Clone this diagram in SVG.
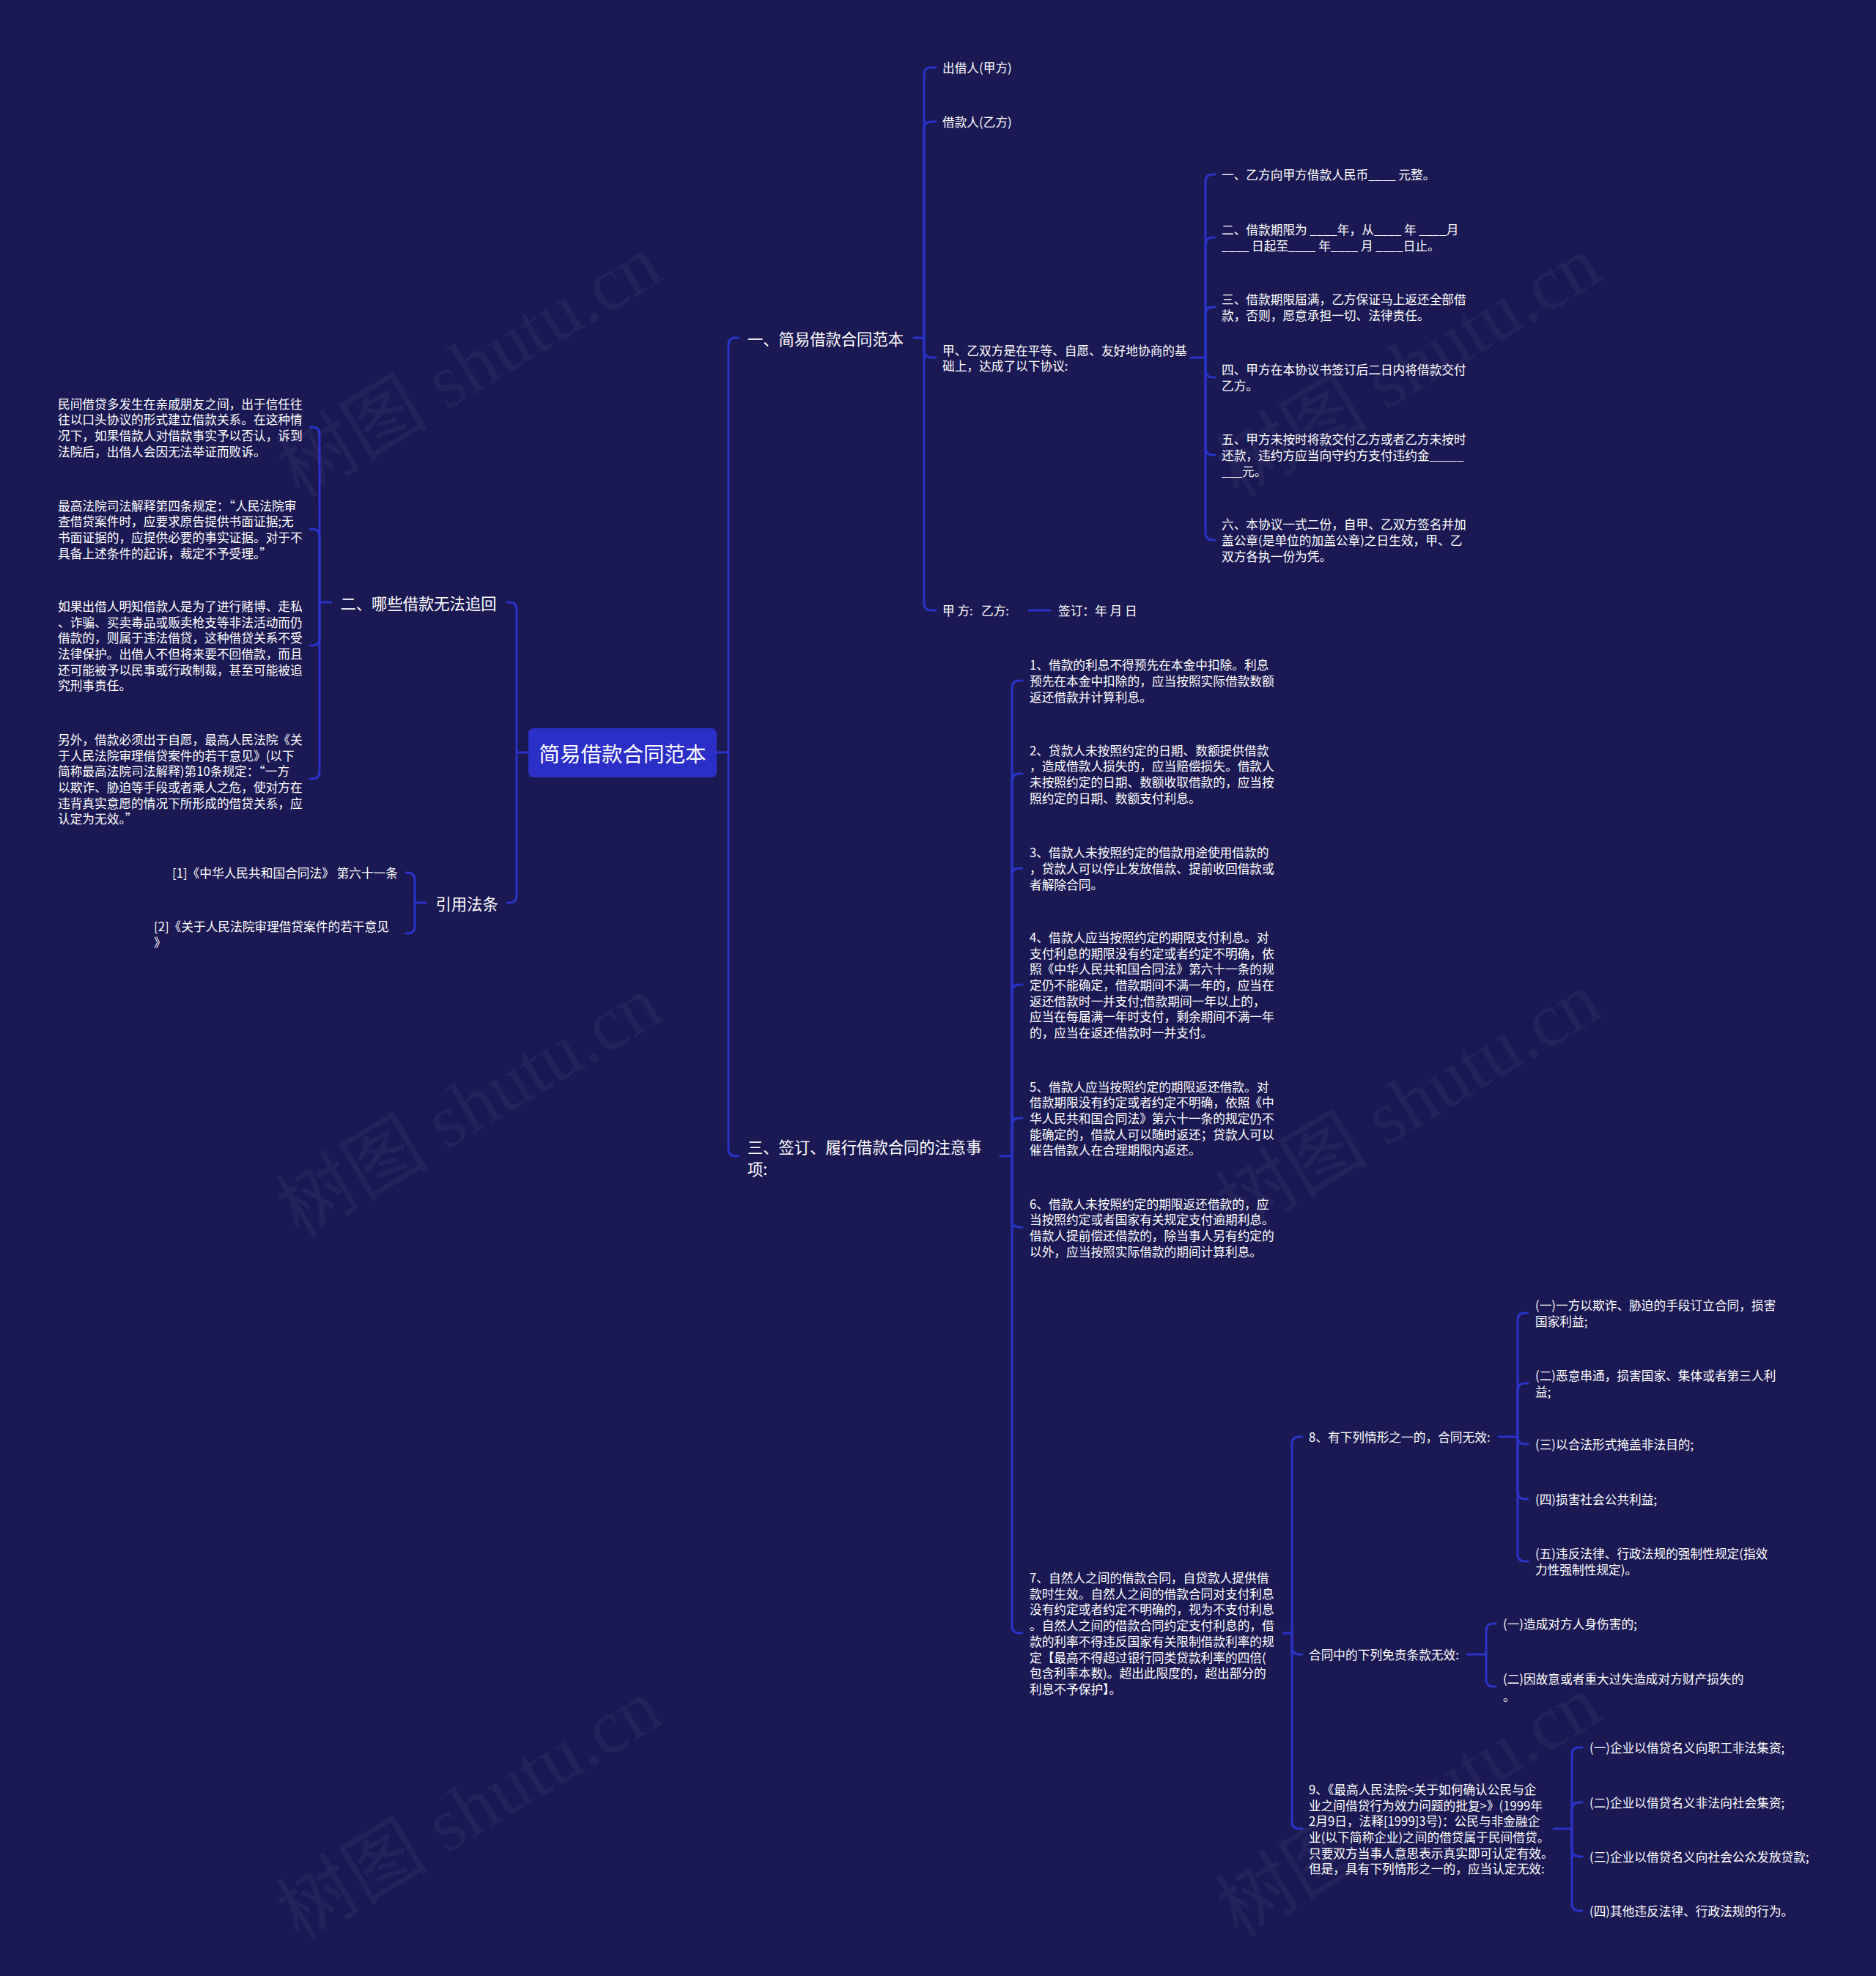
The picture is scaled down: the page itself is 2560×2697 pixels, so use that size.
<svg xmlns="http://www.w3.org/2000/svg" width="2560" height="2697" viewBox="0 0 2560 2697">
<style>
.t{font-family:"Noto Sans CJK SC","Noto Sans",sans-serif;fill:#ffffff;font-size:16.7px;dominant-baseline:central}
.h{font-size:21.3px}
.c{font-size:28.5px;text-anchor:middle}
.ln{fill:none;stroke:#2a33c8;stroke-width:3;stroke-linecap:round}
.wm{font-family:"Liberation Serif","Noto Sans CJK SC",serif;font-size:104px;fill:#ffffff;fill-opacity:0.045}
</style>
<rect x="0" y="0" width="2560" height="2697" fill="#1b1953"/>
<g id="watermarks">
<text class="wm" x="640" y="500" text-anchor="middle" dominant-baseline="central" transform="rotate(-31 640 500)">树图 shutu.cn</text>
<text class="wm" x="1922" y="500" text-anchor="middle" dominant-baseline="central" transform="rotate(-31 1922 500)">树图 shutu.cn</text>
<text class="wm" x="640" y="1510" text-anchor="middle" dominant-baseline="central" transform="rotate(-31 640 1510)">树图 shutu.cn</text>
<text class="wm" x="1922" y="1505" text-anchor="middle" dominant-baseline="central" transform="rotate(-31 1922 1505)">树图 shutu.cn</text>
<text class="wm" x="640" y="2470" text-anchor="middle" dominant-baseline="central" transform="rotate(-31 640 2470)">树图 shutu.cn</text>
<text class="wm" x="1922" y="2465" text-anchor="middle" dominant-baseline="central" transform="rotate(-31 1922 2465)">树图 shutu.cn</text>
</g>
<g id="connectors">
<path class="ln" d="M978 1027H994"/>
<path class="ln" d="M994 1027V471Q994 461 1004 461H1008"/>
<path class="ln" d="M994 1027V1568Q994 1578 1004 1578H1008"/>
<path class="ln" d="M721 1027H705"/>
<path class="ln" d="M705 1027V832Q705 822 695 822H692"/>
<path class="ln" d="M705 1027V1222Q705 1232 695 1232H692"/>
<path class="ln" d="M1247 461H1261"/>
<path class="ln" d="M1261 461V102Q1261 92 1271 92H1277"/>
<path class="ln" d="M1261 461V176Q1261 166 1271 166H1277"/>
<path class="ln" d="M1261 461V478Q1261 488 1271 488H1277"/>
<path class="ln" d="M1261 461V823Q1261 833 1271 833H1277"/>
<path class="ln" d="M1625 488H1645"/>
<path class="ln" d="M1645 488V248Q1645 238 1655 238H1658"/>
<path class="ln" d="M1645 488V334Q1645 324 1655 324H1658"/>
<path class="ln" d="M1645 488V429Q1645 419 1655 419H1658"/>
<path class="ln" d="M1645 488V505Q1645 515 1655 515H1658"/>
<path class="ln" d="M1645 488V611Q1645 621 1655 621H1658"/>
<path class="ln" d="M1645 488V727Q1645 737 1655 737H1658"/>
<path class="ln" d="M1404 833H1433"/>
<path class="ln" d="M1365 1578H1381"/>
<path class="ln" d="M1381 1578V939Q1381 929 1391 929H1395"/>
<path class="ln" d="M1381 1578V1066Q1381 1056 1391 1056H1395"/>
<path class="ln" d="M1381 1578V1195Q1381 1185 1391 1185H1395"/>
<path class="ln" d="M1381 1578V1354Q1381 1344 1391 1344H1395"/>
<path class="ln" d="M1381 1578V1536Q1381 1526 1391 1526H1395"/>
<path class="ln" d="M1381 1578V1665Q1381 1675 1391 1675H1395"/>
<path class="ln" d="M1381 1578V2219Q1381 2229 1391 2229H1395"/>
<path class="ln" d="M1752 2229H1763"/>
<path class="ln" d="M1763 2229V1971Q1763 1961 1773 1961H1777"/>
<path class="ln" d="M1763 2229V2248Q1763 2258 1773 2258H1777"/>
<path class="ln" d="M1763 2229V2486Q1763 2496 1773 2496H1777"/>
<path class="ln" d="M2045 1961H2071"/>
<path class="ln" d="M2071 1961V1802Q2071 1792 2081 1792H2085"/>
<path class="ln" d="M2071 1961V1898Q2071 1888 2081 1888H2085"/>
<path class="ln" d="M2071 1961Q2071 1971 2081 1971H2085"/>
<path class="ln" d="M2071 1961V2036Q2071 2046 2081 2046H2085"/>
<path class="ln" d="M2071 1961V2121Q2071 2131 2081 2131H2085"/>
<path class="ln" d="M2002 2258H2028"/>
<path class="ln" d="M2028 2258V2226Q2028 2216 2038 2216H2041"/>
<path class="ln" d="M2028 2258V2292Q2028 2302 2038 2302H2041"/>
<path class="ln" d="M2120 2496H2145"/>
<path class="ln" d="M2145 2496V2395Q2145 2385 2155 2385H2159"/>
<path class="ln" d="M2145 2496V2470Q2145 2460 2155 2460H2159"/>
<path class="ln" d="M2145 2496V2524Q2145 2534 2155 2534H2159"/>
<path class="ln" d="M2145 2496V2598Q2145 2608 2155 2608H2159"/>
<path class="ln" d="M452 822H436"/>
<path class="ln" d="M436 822V593Q436 583 426 583H423"/>
<path class="ln" d="M436 822V732Q436 722 426 722H423"/>
<path class="ln" d="M436 822V871Q436 881 426 881H423"/>
<path class="ln" d="M436 822V1053Q436 1063 426 1063H423"/>
<path class="ln" d="M581 1232H566"/>
<path class="ln" d="M566 1232V1201Q566 1191 556 1191H554"/>
<path class="ln" d="M566 1232V1264Q566 1274 556 1274H554"/>
</g>
<g id="root">
<rect x="721" y="994" width="257" height="67" rx="7" fill="#2b2fc8"/>
<text class="t c" x="849.5" y="1027">简易借款合同范本</text>
</g>
<g id="sec1"><text class="t h" x="1020" y="461">一、简易借款合同范本</text></g>
<g id="sec2"><text class="t h" x="464.5" y="822">二、哪些借款无法追回</text></g>
<g id="sec3"><text class="t h" x="1020" y="1564">三、签订、履行借款合同的注意事<tspan x="1020" y="1594">项:</tspan></text></g>
<g id="cite"><text class="t h" x="594.5" y="1232">引用法条</text></g>
<g id="n-lender"><text class="t" x="1286" y="92">出借人(甲方)</text></g>
<g id="n-borrower"><text class="t" x="1286" y="166">借款人(乙方)</text></g>
<g id="n-agree"><text class="t" x="1286" y="477.5">甲、乙双方是在平等、自愿、友好地协商的基<tspan x="1286" y="499.2">础上，达成了以下协议:</tspan></text></g>
<g id="n-sign"><text class="t" x="1286" y="833" style="white-space:pre" xml:space="preserve">甲 方:   乙方:</text></g>
<g id="n-date"><text class="t" x="1444" y="833" style="white-space:pre" xml:space="preserve">签订：年 月 日</text></g>
<g id="a1"><text class="t" x="1667" y="238">一、乙方向甲方借款人民币____ 元整。</text></g>
<g id="a2"><text class="t" x="1667" y="313.2">二、借款期限为 ____年，从____ 年 ____月<tspan x="1667" y="334.9">____ 日起至____ 年____ 月 ____日止。</tspan></text></g>
<g id="a3"><text class="t" x="1667" y="408.2">三、借款期限届满，乙方保证马上返还全部借<tspan x="1667" y="429.9">款，否则，愿意承担一切、法律责任。</tspan></text></g>
<g id="a4"><text class="t" x="1667" y="504.2">四、甲方在本协议书签订后二日内将借款交付<tspan x="1667" y="525.9">乙方。</tspan></text></g>
<g id="a5"><text class="t" x="1667" y="599.3">五、甲方未按时将款交付乙方或者乙方未按时<tspan x="1667" y="621">还款，违约方应当向守约方支付违约金_____</tspan><tspan x="1667" y="642.7">___元。</tspan></text></g>
<g id="a6"><text class="t" x="1667" y="715.3">六、本协议一式二份，自甲、乙双方签名并加<tspan x="1667" y="737">盖公章(是单位的加盖公章)之日生效，甲、乙</tspan><tspan x="1667" y="758.7">双方各执一份为凭。</tspan></text></g>
<g id="l1"><text class="t" x="79" y="550.5">民间借贷多发生在亲戚朋友之间，出于信任往<tspan x="79" y="572.2">往以口头协议的形式建立借款关系。在这种情</tspan><tspan x="79" y="593.8">况下，如果借款人对借款事实予以否认，诉到</tspan><tspan x="79" y="615.5">法院后，出借人会因无法举证而败诉。</tspan></text></g>
<g id="l2"><text class="t" x="79" y="689.5">最高法院司法解释第四条规定：“人民法院审<tspan x="79" y="711.2">查借贷案件时，应要求原告提供书面证据;无</tspan><tspan x="79" y="732.8">书面证据的，应提供必要的事实证据。对于不</tspan><tspan x="79" y="754.5">具备上述条件的起诉，裁定不予受理。”</tspan></text></g>
<g id="l3"><text class="t" x="79" y="826.8">如果出借人明知借款人是为了进行赌博、走私<tspan x="79" y="848.5">、诈骗、买卖毒品或贩卖枪支等非法活动而仍</tspan><tspan x="79" y="870.2">借款的，则属于违法借贷，这种借贷关系不受</tspan><tspan x="79" y="891.8">法律保护。出借人不但将来要不回借款，而且</tspan><tspan x="79" y="913.5">还可能被予以民事或行政制裁，甚至可能被追</tspan><tspan x="79" y="935.2">究刑事责任。</tspan></text></g>
<g id="l4"><text class="t" x="79" y="1008.8">另外，借款必须出于自愿，最高人民法院《关<tspan x="79" y="1030.5">于人民法院审理借贷案件的若干意见》(以下</tspan><tspan x="79" y="1052.2">简称最高法院司法解释)第10条规定：“一方</tspan><tspan x="79" y="1073.8">以欺诈、胁迫等手段或者乘人之危，使对方在</tspan><tspan x="79" y="1095.5">违背真实意愿的情况下所形成的借贷关系，应</tspan><tspan x="79" y="1117.2">认定为无效。”</tspan></text></g>
<g id="c1"><text class="t" x="543" y="1191" text-anchor="end">[1]《中华人民共和国合同法》 第六十一条</text></g>
<g id="c2"><text class="t" x="210" y="1264">[2]《关于人民法院审理借贷案件的若干意见<tspan x="210" y="1285.7">》</tspan></text></g>
<g id="i1"><text class="t" x="1405" y="907.3">1、借款的利息不得预先在本金中扣除。利息<tspan x="1405" y="929">预先在本金中扣除的，应当按照实际借款数额</tspan><tspan x="1405" y="950.7">返还借款并计算利息。</tspan></text></g>
<g id="i2"><text class="t" x="1405" y="1023.5">2、贷款人未按照约定的日期、数额提供借款<tspan x="1405" y="1045.2">，造成借款人损失的，应当赔偿损失。借款人</tspan><tspan x="1405" y="1066.8">未按照约定的日期、数额收取借款的，应当按</tspan><tspan x="1405" y="1088.5">照约定的日期、数额支付利息。</tspan></text></g>
<g id="i3"><text class="t" x="1405" y="1163.3">3、借款人未按照约定的借款用途使用借款的<tspan x="1405" y="1185">，贷款人可以停止发放借款、提前收回借款或</tspan><tspan x="1405" y="1206.7">者解除合同。</tspan></text></g>
<g id="i4"><text class="t" x="1405" y="1278.9">4、借款人应当按照约定的期限支付利息。对<tspan x="1405" y="1300.6">支付利息的期限没有约定或者约定不明确，依</tspan><tspan x="1405" y="1322.3">照《中华人民共和国合同法》第六十一条的规</tspan><tspan x="1405" y="1344">定仍不能确定，借款期间不满一年的，应当在</tspan><tspan x="1405" y="1365.7">返还借款时一并支付;借款期间一年以上的，</tspan><tspan x="1405" y="1387.4">应当在每届满一年时支付，剩余期间不满一年</tspan><tspan x="1405" y="1409.1">的，应当在返还借款时一并支付。</tspan></text></g>
<g id="i5"><text class="t" x="1405" y="1482.6">5、借款人应当按照约定的期限返还借款。对<tspan x="1405" y="1504.3">借款期限没有约定或者约定不明确，依照《中</tspan><tspan x="1405" y="1526">华人民共和国合同法》第六十一条的规定仍不</tspan><tspan x="1405" y="1547.7">能确定的，借款人可以随时返还；贷款人可以</tspan><tspan x="1405" y="1569.4">催告借款人在合理期限内返还。</tspan></text></g>
<g id="i6"><text class="t" x="1405" y="1642.5">6、借款人未按照约定的期限返还借款的，应<tspan x="1405" y="1664.2">当按照约定或者国家有关规定支付逾期利息。</tspan><tspan x="1405" y="1685.8">借款人提前偿还借款的，除当事人另有约定的</tspan><tspan x="1405" y="1707.5">以外，应当按照实际借款的期间计算利息。</tspan></text></g>
<g id="i7"><text class="t" x="1405" y="2153">7、自然人之间的借款合同，自贷款人提供借<tspan x="1405" y="2174.7">款时生效。自然人之间的借款合同对支付利息</tspan><tspan x="1405" y="2196.4">没有约定或者约定不明确的，视为不支付利息</tspan><tspan x="1405" y="2218.1">。自然人之间的借款合同约定支付利息的，借</tspan><tspan x="1405" y="2239.8">款的利率不得违反国家有关限制借款利率的规</tspan><tspan x="1405" y="2261.5">定【最高不得超过银行同类贷款利率的四倍(</tspan><tspan x="1405" y="2283.2">包含利率本数)。超出此限度的，超出部分的</tspan><tspan x="1405" y="2304.9">利息不予保护】。</tspan></text></g>
<g id="i8"><text class="t" x="1786" y="1961">8、有下列情形之一的，合同无效:</text></g>
<g id="i8a"><text class="t" x="2095" y="1781.2">(一)一方以欺诈、胁迫的手段订立合同，损害<tspan x="2095" y="1802.9">国家利益;</tspan></text></g>
<g id="i8b"><text class="t" x="2095" y="1877.2">(二)恶意串通，损害国家、集体或者第三人利<tspan x="2095" y="1898.9">益;</tspan></text></g>
<g id="i8c"><text class="t" x="2095" y="1971">(三)以合法形式掩盖非法目的;</text></g>
<g id="i8d"><text class="t" x="2095" y="2046">(四)损害社会公共利益;</text></g>
<g id="i8e"><text class="t" x="2095" y="2120.2">(五)违反法律、行政法规的强制性规定(指效<tspan x="2095" y="2141.9">力性强制性规定)。</tspan></text></g>
<g id="iex"><text class="t" x="1786" y="2258">合同中的下列免责条款无效:</text></g>
<g id="iexa"><text class="t" x="2051" y="2216">(一)造成对方人身伤害的;</text></g>
<g id="iexb"><text class="t" x="2051" y="2291.2">(二)因故意或者重大过失造成对方财产损失的<tspan x="2051" y="2314.9">。</tspan></text></g>
<g id="i9"><text class="t" x="1786" y="2441.8">9、《最高人民法院&lt;关于如何确认公民与企<tspan x="1786" y="2463.5">业之间借贷行为效力问题的批复&gt;》(1999年</tspan><tspan x="1786" y="2485.2">2月9日，法释[1999]3号)：公民与非金融企</tspan><tspan x="1786" y="2506.8">业(以下简称企业)之间的借贷属于民间借贷。</tspan><tspan x="1786" y="2528.5">只要双方当事人意思表示真实即可认定有效。</tspan><tspan x="1786" y="2550.2">但是，具有下列情形之一的，应当认定无效:</tspan></text></g>
<g id="i9a"><text class="t" x="2169" y="2385">(一)企业以借贷名义向职工非法集资;</text></g>
<g id="i9b"><text class="t" x="2169" y="2460">(二)企业以借贷名义非法向社会集资;</text></g>
<g id="i9c"><text class="t" x="2169" y="2534">(三)企业以借贷名义向社会公众发放贷款;</text></g>
<g id="i9d"><text class="t" x="2169" y="2608">(四)其他违反法律、行政法规的行为。</text></g>
</svg>
